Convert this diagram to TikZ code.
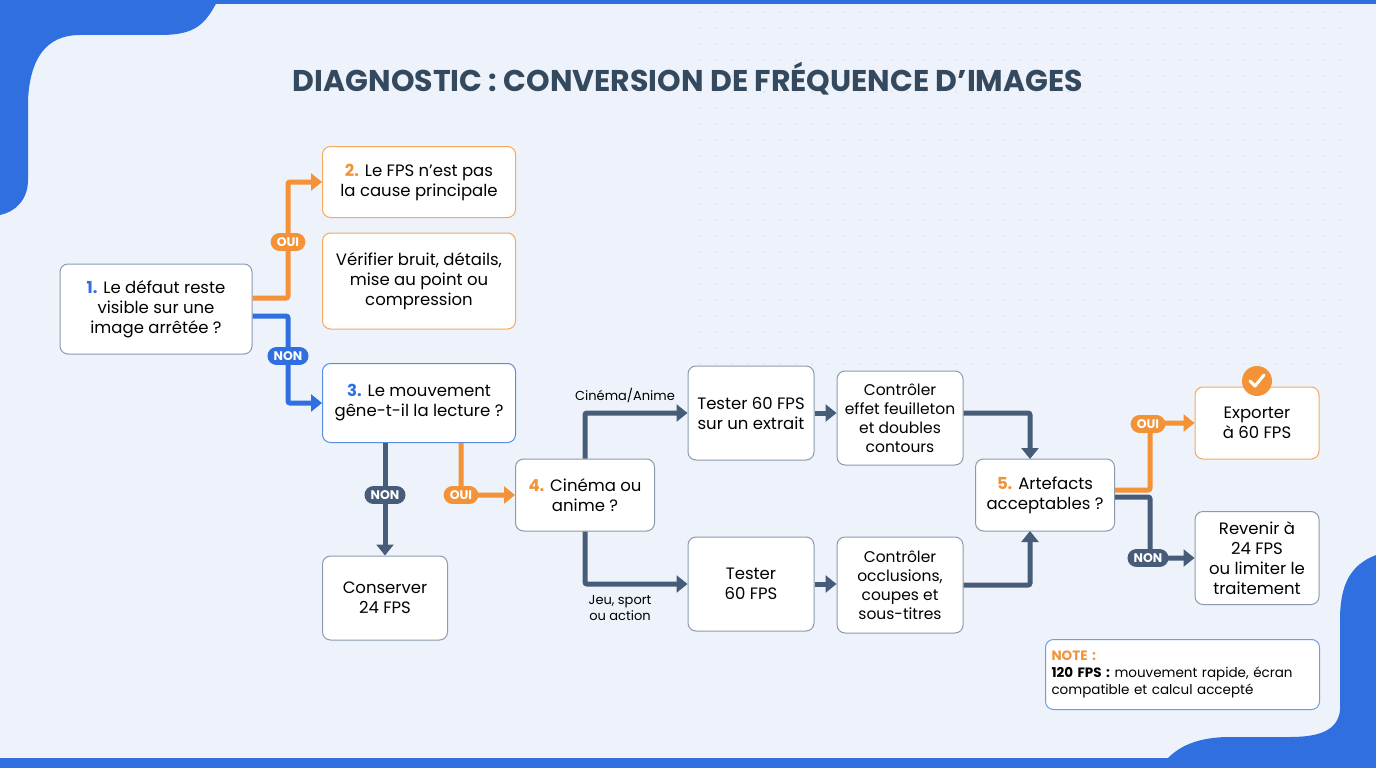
\documentclass[tikz,border=0pt]{standalone}
\usepackage{fontspec}
\setmainfont{Poppins}
\usetikzlibrary{arrows.meta,shapes.misc,positioning}
\definecolor{bl}{HTML}{2F6FE0}
\definecolor{og}{HTML}{F39237}
\definecolor{dk}{HTML}{475C78}
\definecolor{tt}{HTML}{34495E}
\definecolor{bg}{HTML}{EEF3FB}
\definecolor{gb}{HTML}{8C9AAE}
\begin{document}
\begin{tikzpicture}[x=1pt,y=-1pt,
 box/.style={draw=gb,line width=1pt,fill=white,rounded corners=8pt,align=center,font=\fontsize{16.5}{20}\selectfont,inner sep=3pt},
 ob/.style={box,draw=og!80},
 bb/.style={box,draw=bl!80},
 lk/.style={line width=5pt,-{Triangle[length=11pt,width=17pt]}},
 pill/.style={rounded rectangle,fill=#1,text=white,font=\bfseries\fontsize{12.5}{13}\selectfont,inner xsep=5pt,inner ysep=4.5pt},
 sm/.style={font=\fontsize{13}{16}\selectfont,align=center,text=black}]
\useasboundingbox (0,0) rectangle (1376,768);
\fill[bg] (0,0) rectangle (1376,768);
% dots
\foreach \i in {0,...,40}{\foreach \j in {0,...,22}{\fill[gb!35] (700+\i*16,12+\j*16) circle (0.8);}}
\fill[bl] (0,0) rectangle (1376,4);
\fill[bl] (0,758) rectangle (1376,768);
\fill[bl] (0,0) -- (218,0) .. controls (205,25) and (195,35) .. (160,35) -- (80,35) .. controls (45,35) and (30,60) .. (28,100) -- (28,180) .. controls (28,200) and (15,212) .. (0,215) -- cycle;
\fill[bl] (1376,555) .. controls (1350,565) and (1340,585) .. (1340,620) -- (1340,710) .. controls (1338,730) and (1320,737) .. (1290,737) -- (1230,737) .. controls (1195,737) and (1178,748) .. (1168,758) -- (1376,758) -- cycle;
\node[font=\fontsize{30}{33}\selectfont\bfseries,text=tt] (title) at (688,79) {DIAGNOSTIC : CONVERSION DE FRÉQUENCE D’IMAGES};
% nodes
\node[box,minimum width=192,minimum height=90] (n1) at (156,309) {{\color{bl}\bfseries 1.} Le défaut reste\\visible sur une\\image arrêtée ?};
\node[ob,minimum width=193,minimum height=71] (n2) at (419,182) {{\color{og}\bfseries 2.} Le FPS n’est pas\\la cause principale};
\node[ob,minimum width=193,minimum height=96] (n2b) at (419,281) {Vérifier bruit, détails,\\mise au point ou\\compression};
\node[bb,minimum width=193,minimum height=79] (n3) at (419,403) {{\color{bl}\bfseries 3.} Le mouvement\\gêne-t-il la lecture ?};
\node[box,minimum width=125,minimum height=84] (c24) at (385,598) {Conserver\\24 FPS};
\node[box,minimum width=139,minimum height=72] (n4) at (585,495) {{\color{og}\bfseries 4.} Cinéma ou\\anime ?};
\node[box,minimum width=126,minimum height=94] (ta) at (751,413) {Tester 60 FPS\\sur un extrait};
\node[box,minimum width=126,minimum height=94,font=\fontsize{15.5}{19}\selectfont] (ca) at (900,418) {Contrôler\\effet feuilleton\\et doubles\\contours};
\node[box,minimum width=126,minimum height=94] (tb) at (751,584) {Tester\\60 FPS};
\node[box,minimum width=126,minimum height=96,font=\fontsize{15.5}{19}\selectfont] (cb) at (900,585) {Contrôler\\occlusions,\\coupes et\\sous-titres};
\node[box,minimum width=139,minimum height=72] (n5) at (1045,495) {{\color{og}\bfseries 5.} Artefacts\\acceptables ?};
\node[ob,minimum width=124,minimum height=72] (ex) at (1257,423) {Exporter\\à 60 FPS};
\node[box,minimum width=124,minimum height=93] (rv) at (1257,558) {Revenir à\\24 FPS\\ou limiter le\\traitement};
\node[box,draw=bl!70,minimum width=274,minimum height=70,align=left,anchor=north west,font=\fontsize{13.5}{17}\selectfont,text width=262] (nt) at (1045,639) {{\color{og}\bfseries NOTE :}\\{\bfseries 120 FPS :} mouvement rapide, écran compatible et calcul accepté};
\fill[og] (1257,381) circle (15);
\draw[white,line width=3pt,line cap=round,line join=round] (1250,381) -- (1255,386) -- (1264,375);
% connectors
\draw[lk,og,rounded corners=2pt] (n1.east|-0,298) -| (288,182) -- (n2.west);
\draw[lk,bl,rounded corners=2pt] (n1.east|-0,316) -| (288,403) -- (n3.west);
\node[pill=og] (l1) at (288,242) {OUI};
\node[pill=bl] (l2) at (288,356) {NON};
\draw[lk,dk] (n3.south-|c24) -- (c24.north);
\node[pill=dk] (l3) at (385,495) {NON};
\draw[lk,og,rounded corners=2pt] (n3.south-|461,0) |- (n4.west);
\node[pill=og] (l4) at (461,495) {OUI};
\draw[lk,dk,rounded corners=2pt] (n4.north) |- (ta.west);
\draw[lk,dk,rounded corners=2pt] (n4.south) |- (tb.west);
\node[sm] (la) at (625,395) {Cinéma/Anime};
\node[sm] (lb) at (620,608) {Jeu, sport\\ou action};
\draw[lk,dk] (ta.east|-0,413) -- (ca.west|-0,413);
\draw[lk,dk] (tb.east) -- (cb.west|-tb);
\draw[lk,dk,rounded corners=2pt] (ca.east|-0,413) -| (1030,459);
\draw[lk,dk,rounded corners=2pt] (cb.east|-0,585) -| (1030,531);
\draw[lk,og,rounded corners=2pt] (n5.east|-0,490) -| (1150,423) -- (ex.west);
\draw[lk,dk,rounded corners=2pt] (n5.east|-0,497) -| (1150,558) -- (rv.west);
\node[pill=og] (l5) at (1148,424) {OUI};
\node[pill=dk] (l6) at (1148,558) {NON};
\end{tikzpicture}
\end{document}
